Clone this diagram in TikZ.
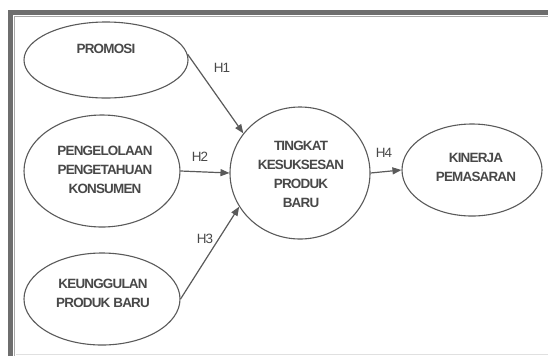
\documentclass[tikz,border=0pt]{standalone}
\usepackage{fontspec}
\setmainfont[LetterSpace=-6]{Liberation Sans}
\usetikzlibrary{shapes.geometric,arrows.meta}
\definecolor{ink}{HTML}{484848}
\definecolor{edge}{HTML}{5A5A5A}
\definecolor{frame}{HTML}{6E6E6E}
\begin{document}
\begin{tikzpicture}[x=1bp,y=-1bp,
  var/.style={ellipse,draw=edge,line width=1.1bp,inner sep=0pt},
  lbl/.style={text=ink,font=\bfseries\fontsize{13.5}{19}\selectfont,align=center,inner sep=0pt},
  hyp/.style={text=ink,font=\fontsize{13.5}{15}\selectfont,inner sep=0pt},
  link/.style={draw=edge,line width=1.2bp,-{Triangle[length=9bp,width=7bp]}}]
  \useasboundingbox (0,0) rectangle (548,356);
  % frame of the figure
  \fill[white] (0,0) rectangle (548,356);
  \draw[frame,line width=5bp] (10.5,356) -- (10.5,12) -- (548,12);
  \draw[frame!60,line width=1bp] (14,356) -- (14,16.5) -- (548,16.5);
  \draw[black!12,line width=1bp] (16,354) -- (548,354);
  % constructs
  \node[var,minimum width=164bp,minimum height=76bp] (promosi) at (106,60) {};
  \node[var,minimum width=156bp,minimum height=112bp] (kelola) at (102,171) {};
  \node[var,minimum width=156bp,minimum height=92bp] (unggul) at (102,299) {};
  \node[var,minimum width=140bp,minimum height=132bp] (sukses) at (300,173) {};
  \node[var,minimum width=140bp,minimum height=92bp] (kinerja) at (472,170) {};
  % construct names
  \node[lbl] (tpromosi) at (106,49) {PROMOSI};
  \node[lbl] (tkelola) at (105,170) {PENGELOLAAN\\PENGETAHUAN\\KONSUMEN};
  \node[lbl] (tunggul) at (103,293) {KEUNGGULAN\\PRODUK BARU};
  \node[lbl] (tsukses) at (301,174) {TINGKAT\\KESUKSESAN\\PRODUK\\BARU};
  \node[lbl] (tkinerja) at (476,167) {KINERJA\\PEMASARAN};
  % hypotheses
  \draw[link] (promosi.4) -- (sukses.145);
  \draw[link] (kelola.east) -- (sukses.west);
  \draw[link] (unggul.east) -- (sukses.209);
  \draw[link] (sukses.east) -- (kinerja.west);
  \node[hyp] (h1) at (222,68) {H1};
  \node[hyp] (h2) at (200,157) {H2};
  \node[hyp] (h3) at (205,239) {H3};
  \node[hyp] (h4) at (384,153) {H4};
\end{tikzpicture}
\end{document}
